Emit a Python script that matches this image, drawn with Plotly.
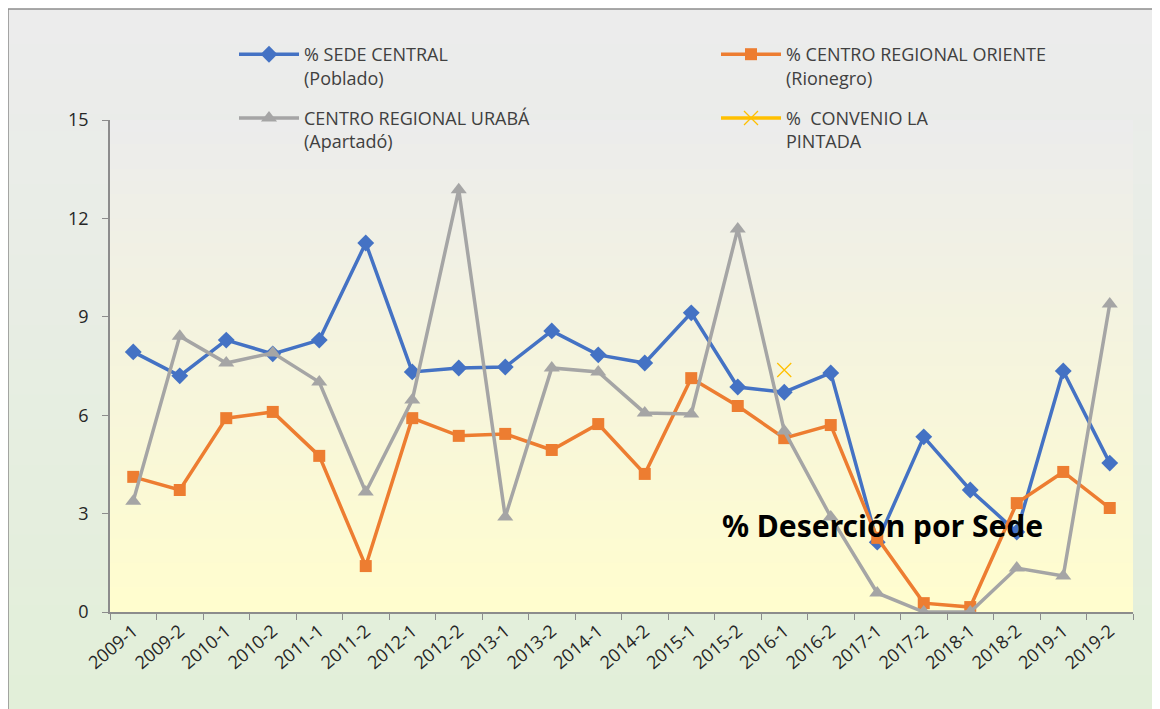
import plotly.graph_objects as go

periodos = ["2009-1", "2009-2", "2010-1", "2010-2", "2011-1", "2011-2", "2012-1", "2012-2",
            "2013-1", "2013-2", "2014-1", "2014-2", "2015-1", "2015-2", "2016-1", "2016-2",
            "2017-1", "2017-2", "2018-1", "2018-2", "2019-1", "2019-2"]

sede_central = [7.93, 7.2, 8.29, 7.87, 8.29, 11.25, 7.32, 7.44, 7.47, 8.57, 7.84, 7.59,
                9.12, 6.86, 6.7, 7.29, 2.13, 5.34, 3.72, 2.44, 7.35, 4.54]
oriente = [4.12, 3.72, 5.91, 6.1, 4.76, 1.4, 5.91, 5.37, 5.43, 4.94, 5.73, 4.21,
           7.13, 6.28, 5.3, 5.7, 2.26, 0.27, 0.15, 3.32, 4.27, 3.17]
uraba = [3.38, 8.41, 7.59, 7.9, 7.01, 3.66, 6.46, 12.87, 2.9, 7.44, 7.32, 6.07,
         6.04, 11.68, 5.52, 2.9, 0.58, 0.0, 0.0, 1.34, 1.1, 9.39]
pintada_periodos = ["2016-1"]
pintada = [7.38]

y_ticks = [0, 3, 6, 9, 12, 15]

# page has an 8px body margin; work in screenshot pixels and convert
OFF = 8
W, H = 1160 - OFF, 709 - OFF
L, R, T, B = 110, 1133, 120, 612  # plot area in screenshot pixels


def px_x(p):
    return (p - L) / (R - L)


def px_y(p):
    return (B - p) / (B - T)


def lerp(c1, c2, t):
    return "rgb(%d,%d,%d)" % tuple(round(a + (b - a) * t) for a, b in zip(c1, c2))


shapes = []
n = 40
# outer chart-area gradient
top_o, bot_o = (236, 236, 236), (226, 239, 217)
y0o, y1o = 9, 710
for i in range(n):
    ya = y0o + (y1o - y0o) * i / n
    yb = y0o + (y1o - y0o) * (i + 1) / n
    shapes.append(dict(type="rect", xref="paper", yref="paper", layer="below",
                       x0=px_x(7), x1=px_x(1170), y0=px_y(yb + 1), y1=px_y(ya),
                       fillcolor=lerp(top_o, bot_o, i / (n - 1)), line=dict(width=0)))
shapes.append(dict(type="line", xref="paper", yref="paper", layer="below",
                   x0=px_x(8), x1=px_x(1170), y0=px_y(9), y1=px_y(9),
                   line=dict(color="#8c8c8c", width=1.5)))
shapes.append(dict(type="line", xref="paper", yref="paper", layer="below",
                   x0=px_x(8), x1=px_x(8), y0=px_y(9), y1=px_y(712),
                   line=dict(color="#8c8c8c", width=1.5)))
# plot-area gradient
top_p, bot_p = (236, 236, 236), (255, 253, 206)
for i in range(n):
    ya = T + (B - T) * i / n
    yb = T + (B - T) * (i + 1) / n
    shapes.append(dict(type="rect", xref="paper", yref="paper", layer="below",
                       x0=0, x1=1, y0=px_y(min(yb + 1, B)), y1=px_y(ya),
                       fillcolor=lerp(top_p, bot_p, i / (n - 1)), line=dict(width=0)))

fig = go.Figure()
fig.add_trace(go.Scatter(x=periodos, y=sede_central, mode="lines+markers",
                         name="% SEDE CENTRAL<br>(Poblado)", legend="legend", legendgroup="a",
                         line=dict(color="#4472C4", width=3.5),
                         marker=dict(symbol="diamond", size=13, color="#4472C4")))
fig.add_trace(go.Scatter(x=periodos, y=oriente, mode="lines+markers",
                         name="% CENTRO REGIONAL ORIENTE<br>(Rionegro)", legend="legend2",
                         legendgroup="b",
                         line=dict(color="#ED7D31", width=3.5),
                         marker=dict(symbol="square", size=12, color="#ED7D31")))
fig.add_trace(go.Scatter(x=periodos, y=uraba, mode="lines+markers",
                         name="CENTRO REGIONAL URABÁ<br>(Apartadó)", legend="legend",
                         legendgroup="c",
                         line=dict(color="#A5A5A5", width=3.5),
                         marker=dict(symbol="triangle-up", size=14, color="#A5A5A5")))
fig.add_trace(go.Scatter(x=pintada_periodos, y=pintada, mode="lines+markers",
                         name="%  CONVENIO LA<br>PINTADA", legend="legend2", legendgroup="d",
                         line=dict(color="#FFC000", width=3.5),
                         marker=dict(symbol="x-thin", size=14,
                                     line=dict(color="#FFC000", width=1.3))))

fig.add_annotation(text="<b>% Deserción por Sede</b>", xref="paper", yref="paper",
                   x=px_x(882), y=px_y(525), xanchor="center", yanchor="middle",
                   showarrow=False,
                   font=dict(family="Noto Sans", size=30, color="#000000"))

legend_font = dict(family="Open Sans", size=18, color="#404040")
common_legend = dict(orientation="v", xanchor="left", yanchor="top",
                     bgcolor="rgba(0,0,0,0)", font=legend_font, valign="top",
                     tracegroupgap=14, itemwidth=60)

fig.update_layout(
    width=W, height=H,
    margin=dict(l=L - OFF, r=W - (R - OFF), t=T - OFF, b=H - (B - OFF), pad=0),
    paper_bgcolor="white",
    plot_bgcolor="rgba(0,0,0,0)",
    shapes=shapes,
    font=dict(family="Open Sans", size=15, color="#404040"),
    showlegend=True,
    legend=dict(x=px_x(234), y=px_y(36), **common_legend),
    legend2=dict(x=px_x(716), y=px_y(36), **common_legend),
    xaxis=dict(type="category", tickson="boundaries", ticks="outside", ticklen=6,
               tickcolor="#8c8c8c", showline=True, linecolor="#8c8c8c", linewidth=1.5,
               showgrid=False, tickangle=-40, zeroline=False,
               tickfont=dict(family="Open Sans", size=18, color="#262626"),
               range=[-0.5, len(periodos) - 0.5]),
    yaxis=dict(range=[0, 15], tickvals=y_ticks, ticks="outside", ticklen=6,
               tickcolor="#8c8c8c", showline=True, linecolor="#8c8c8c", linewidth=1.5,
               showgrid=False, zeroline=False, ticklabelstandoff=10,
               tickfont=dict(family="Open Sans", size=18, color="#262626")),
)

fig.write_html("out.html")
